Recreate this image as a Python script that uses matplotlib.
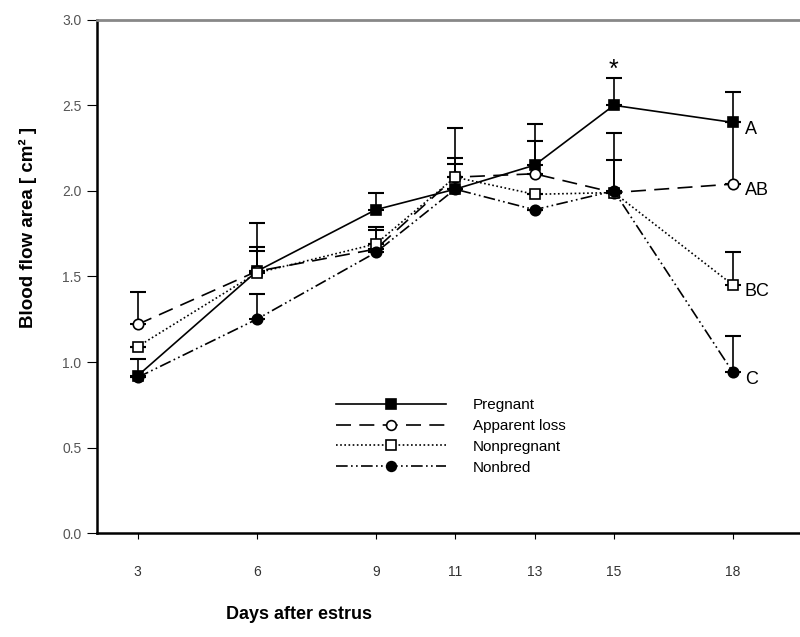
import matplotlib
matplotlib.use('Agg')
import matplotlib.pyplot as plt
import numpy as np

plt.rcParams['font.family'] = ['Liberation Sans', 'DejaVu Sans']

# Days after estrus
days = [3, 6, 9, 11, 13, 15, 18]

# Mean blood flow area (cm^2) and upper error bar tops
pregnant = [0.92, 1.53, 1.89, 2.01, 2.15, 2.50, 2.40]
pregnant_top = [1.02, 1.81, 1.99, 2.37, 2.39, 2.66, 2.58]

apparent_loss = [1.22, 1.53, 1.66, 2.08, 2.10, 1.99, 2.04]
apparent_loss_top = [1.41, 1.67, 1.79, 2.19, 2.29, 2.34, 2.40]

nonpregnant = [1.09, 1.52, 1.69, 2.08, 1.98, 1.99, 1.45]
nonpregnant_top = [1.09, 1.65, 1.69, 2.16, 1.98, 1.99, 1.64]

nonbred = [0.91, 1.25, 1.64, 2.01, 1.89, 2.00, 0.94]
nonbred_top = [0.91, 1.40, 1.77, 2.01, 1.89, 2.18, 1.15]

groups = ['Pregnant', 'Apparent loss', 'Nonpregnant', 'Nonbred']
letters = ['A', 'AB', 'BC', 'C']

fig = plt.figure(figsize=(8, 6.37), dpi=100)
ax = fig.add_axes([0.121, 0.163, 0.879, 0.806])

styles = [
    dict(marker='s', mfc='black', ls='-'),
    dict(marker='o', mfc='white', ls=(0, (9, 5))),
    dict(marker='s', mfc='white', ls=(0, (1, 1.5))),
    dict(marker='o', mfc='black', ls=(0, (7, 2, 1, 2, 1, 2))),
]
series = [(pregnant, pregnant_top), (apparent_loss, apparent_loss_top),
          (nonpregnant, nonpregnant_top), (nonbred, nonbred_top)]

for (vals, tops), st, name in zip(series, styles, groups):
    vals = np.array(vals)
    up = np.array(tops) - vals
    ax.errorbar(days, vals, yerr=[np.zeros_like(up), up], fmt='none',
                ecolor='black', elinewidth=1.2, capsize=5.5, capthick=1.5, zorder=2)
    ax.plot(days, vals, color='black', lw=1.2, linestyle=st['ls'],
            marker=st['marker'], markersize=7.5, markerfacecolor=st['mfc'],
            markeredgecolor='black', markeredgewidth=1.2, label=name, zorder=3)

# significance marker and group letters
ax.text(15, 2.71, '*', ha='center', va='center', fontsize=18)
for vals, letter in zip([pregnant, apparent_loss, nonpregnant, nonbred], letters):
    ax.text(18.3, vals[-1] - 0.04, letter, ha='left', va='center', fontsize=13)

ax.set_xlim(1.97, 19.69)
ax.set_ylim(0, 3.0)
ax.set_xticks(days)
ax.set_xticklabels([str(d) for d in days])
ax.set_yticks(np.arange(0, 3.01, 0.5))
ax.set_yticklabels([f'{v:.1f}' for v in np.arange(0, 3.01, 0.5)])
ax.tick_params(axis='x', direction='out', length=4, pad=19, labelsize=10,
               colors='black', labelcolor='#333333')
ax.tick_params(axis='y', direction='out', length=7, pad=4, labelsize=10,
               colors='black', labelcolor='#555555')

ax.spines['right'].set_visible(False)
ax.spines['top'].set_color('#888888')
ax.spines['top'].set_linewidth(2)
ax.spines['left'].set_linewidth(1.8)
ax.spines['bottom'].set_linewidth(1.8)

ax.set_xlabel('Days after estrus', fontsize=13, fontweight='bold')
ax.set_ylabel('Blood flow area [ cm² ]', fontsize=13.5, fontweight='bold')
ax.xaxis.set_label_coords(0.287, -0.142)
ax.yaxis.set_label_coords(-0.085, 0.595)

leg = ax.legend(loc='upper left', bbox_to_anchor=(0.32, 0.29), frameon=False,
                fontsize=11, handlelength=7.2, handletextpad=1.8, labelspacing=0.45,
                numpoints=1)
for h in leg.legend_handles:
    h.set_markersize(7)

fig.savefig('out.png', dpi=100)
